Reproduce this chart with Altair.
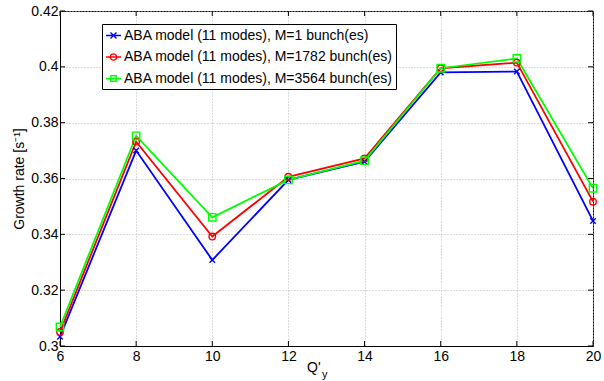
import altair as alt
import pandas as pd

qy = [6, 8, 10, 12, 14, 16, 18, 20]
series_names = [
    "ABA model (11 modes), M=1 bunch(es)",
    "ABA model (11 modes), M=1782 bunch(es)",
    "ABA model (11 modes), M=3564 bunch(es)",
]
growth_m1 = [0.3033, 0.3700, 0.3308, 0.3595, 0.3660, 0.3980, 0.3983, 0.3448]
growth_m1782 = [0.3050, 0.3732, 0.3392, 0.3606, 0.3672, 0.3995, 0.4015, 0.3517]
growth_m3564 = [0.3068, 0.3753, 0.3461, 0.3595, 0.3664, 0.3995, 0.4030, 0.3565]
colors = ["#0000ff", "#ff0000", "#00ff00"]
x_ticks = [6, 8, 10, 12, 14, 16, 18, 20]
y_ticks = [0.30, 0.32, 0.34, 0.36, 0.38, 0.40, 0.42]

FONT = "Liberation Sans"
FS = 14
W, H = 533, 335

rows = []
for name, vals in zip(series_names, [growth_m1, growth_m1782, growth_m3564]):
    for q, v in zip(qy, vals):
        rows.append({"qy": q, "rate": v, "series": name})
df = pd.DataFrame(rows)

xs = alt.Scale(domain=[6, 20], nice=False, zero=False)
ys = alt.Scale(domain=[0.30, 0.42], nice=False, zero=False)

x_enc = alt.X("qy:Q", scale=xs, axis=alt.Axis(values=x_ticks, title=None, ticks=False,
                                               labelFlush=False, labelPadding=3, format="d"))
y_enc = alt.Y("rate:Q", scale=ys, axis=alt.Axis(values=y_ticks, title="Growth rate [s⁻¹]", ticks=False,
                                                 labelFlush=False, labelPadding=2, format=".2~f",
                                                 titlePadding=4, titleFontWeight="normal"))

x_marker = "M-1,-1L1,1M-1,1L1,-1"
leg_x = "M-1,0L1,0M-0.4,-0.4L0.4,0.4M-0.4,0.4L0.4,-0.4"
leg_o = "M-1,0L1,0M-0.42,0A0.42,0.42,0,1,1,0.42,0A0.42,0.42,0,1,1,-0.42,0"
leg_s = "M-1,0L1,0M-0.36,-0.36L0.36,-0.36L0.36,0.36L-0.36,0.36Z"

color_scale = alt.Scale(domain=series_names, range=colors)

lines = alt.Chart(df).mark_line(strokeWidth=1.8).encode(
    x=x_enc, y=y_enc,
    color=alt.Color("series:N", scale=color_scale, legend=None),
)

points = alt.Chart(df).mark_point(filled=False, strokeWidth=1.4, opacity=1).encode(
    x=x_enc, y=y_enc,
    color=alt.Color("series:N", scale=color_scale, legend=None),
    shape=alt.Shape("series:N", scale=alt.Scale(domain=series_names, range=[x_marker, "circle", "square"]), legend=None),
    size=alt.Size("series:O", scale=alt.Scale(domain=series_names, range=[30, 55, 36]), legend=None),
)

legend_layer = alt.Chart(df).transform_filter("false").mark_point(
    filled=False, strokeWidth=1.4, opacity=1, size=225
).encode(
    color=alt.Color("series:N", scale=color_scale,
                    legend=alt.Legend(title=None, orient="none", legendX=42, legendY=13,
                                      strokeColor="black", fillColor="white", padding=3,
                                      symbolSize=225, symbolStrokeWidth=1.4, labelFontSize=FS,
                                      labelFont=FONT, labelColor="black", rowPadding=5.5, labelOffset=2,
                                      cornerRadius=0, labelLimit=500)),
    shape=alt.Shape("series:N", scale=alt.Scale(domain=series_names, range=[leg_x, leg_o, leg_s]),
                    legend=alt.Legend(title=None, orient="none", legendX=42, legendY=13)),
)

xt = pd.DataFrame({"qy": x_ticks})
yt = pd.DataFrame({"rate": y_ticks})
tick_bottom = alt.Chart(xt).mark_rule(color="black", strokeWidth=1).encode(
    x=alt.X("qy:Q", scale=xs), y=alt.value(H), y2=alt.value(H - 5))
tick_top = alt.Chart(xt).mark_rule(color="black", strokeWidth=1).encode(
    x=alt.X("qy:Q", scale=xs), y=alt.value(0), y2=alt.value(5))
tick_left = alt.Chart(yt).mark_rule(color="black", strokeWidth=1).encode(
    y=alt.Y("rate:Q", scale=ys), x=alt.value(0), x2=alt.value(5))
tick_right = alt.Chart(yt).mark_rule(color="black", strokeWidth=1).encode(
    y=alt.Y("rate:Q", scale=ys), x=alt.value(W), x2=alt.value(W - 5))

one = pd.DataFrame({"a": [0]})
xtitle = alt.Chart(one).mark_text(font=FONT, fontSize=FS, align="left", baseline="alphabetic", color="black").encode(
    text=alt.value("Q'"), x=alt.value(247), y=alt.value(361))
xsub = alt.Chart(one).mark_text(font=FONT, fontSize=11, align="left", baseline="alphabetic", color="black").encode(
    text=alt.value("y"), x=alt.value(262), y=alt.value(367))

chart = alt.layer(
    lines, points, legend_layer, tick_bottom, tick_top, tick_left, tick_right, xtitle, xsub
).resolve_scale(
    color="independent", shape="independent", size="independent"
).properties(
    width=W, height=H,
    background="white",
    autosize=alt.AutoSizeParams(type="none"),
    padding={"left": 60, "top": 11, "right": 11, "bottom": 35},
).configure_view(
    stroke="black", strokeWidth=1
).configure_axis(
    labelFont=FONT, labelFontSize=FS, labelColor="black",
    titleFont=FONT, titleFontSize=FS, titleColor="black", titleFontWeight="normal",
    domainColor="black", domainWidth=1,
    gridColor="#b4b4b4", gridDash=[1, 2], gridWidth=1,
)

chart.save("out.html", embed_options={"renderer": "svg", "actions": False})
